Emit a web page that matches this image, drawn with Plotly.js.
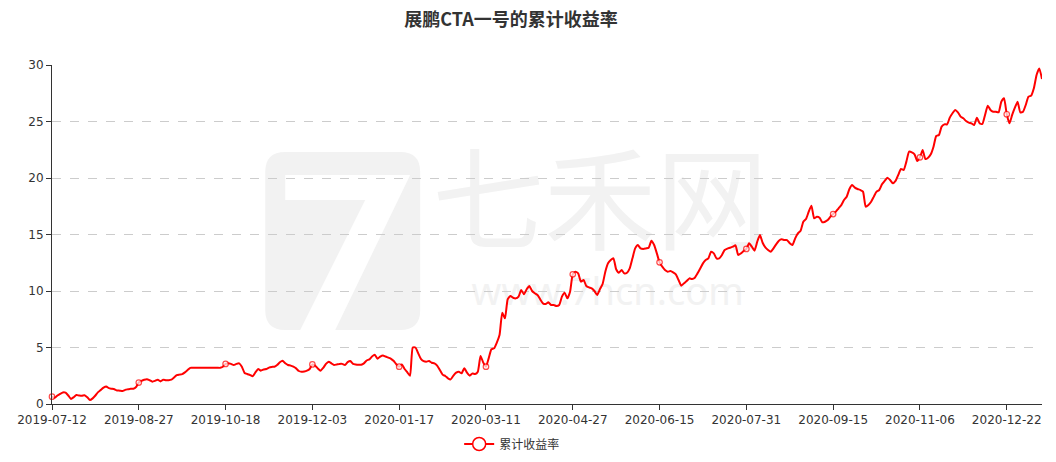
<!DOCTYPE html>
<html>
<head>
<meta charset="utf-8">
<script src="https://cdn.plot.ly/plotly-3.0.1.min.js"></script>
<style>
html,body{margin:0;padding:0;background:#fff;}
#chart{width:1056px;height:462px;}
</style>
</head>
<body>
<div id="chart"></div>
<script>
// tick labels (every 32nd trading day)
const tickLabels = ["2019-07-12","2019-08-27","2019-10-18","2019-12-03","2020-01-17","2020-03-11","2020-04-27","2020-06-15","2020-07-31","2020-09-15","2020-11-06","2020-12-22"];
const labelInterval = 32;

// cumulative return (%) per trading day
const cumReturn = [
0.65,0.55,0.75,0.9,1.02,1.0,0.75,0.45,0.6,0.8,
0.75,0.72,0.78,0.6,0.35,0.5,0.75,1.05,1.25,1.45,
1.55,1.4,1.35,1.3,1.2,1.18,1.15,1.25,1.3,1.35,
1.35,1.5,1.9,2.05,2.15,2.2,2.1,1.98,2.05,2.15,
2.0,2.15,2.1,2.1,2.15,2.35,2.55,2.6,2.65,2.8,
3.0,3.2,3.2,3.2,3.2,3.2,3.2,3.2,3.2,3.2,
3.2,3.2,3.2,3.3,3.55,3.6,3.55,3.45,3.55,3.6,
3.3,2.75,2.65,2.57,2.45,2.8,3.1,2.95,3.05,3.1,
3.22,3.28,3.3,3.45,3.69,3.83,3.6,3.45,3.4,3.3,
3.15,2.92,2.85,2.88,2.95,3.1,3.5,3.4,3.15,2.95,
3.2,3.55,3.75,3.6,3.45,3.5,3.55,3.55,3.45,3.7,
3.8,3.55,3.5,3.48,3.48,3.6,3.85,3.95,4.2,4.35,
4.0,4.2,4.3,4.2,4.1,4.0,3.8,3.5,3.3,3.5,
3.1,2.8,2.5,5.0,5.0,4.5,4.0,3.8,3.75,3.8,
3.65,3.6,3.4,3.0,2.6,2.48,2.27,2.18,2.51,2.77,
2.86,2.71,3.16,2.77,2.51,2.71,2.65,2.86,4.25,3.66,
3.3,4.04,4.84,4.93,5.43,6.1,8.08,7.58,9.26,9.56,
9.4,9.35,9.5,10.09,9.71,10.15,10.44,10.0,9.8,9.65,
9.26,8.91,8.85,9.0,8.76,8.76,8.67,8.76,9.5,9.85,
9.35,9.94,11.48,11.71,11.56,10.83,10.97,10.44,10.32,10.24,
10.0,9.65,10.15,10.62,11.71,12.45,12.74,12.89,11.92,11.62,
11.86,11.56,11.62,12.0,12.89,13.77,14.07,13.77,13.72,13.77,
13.83,14.45,14.07,13.33,12.54,12.15,11.86,11.71,11.77,11.65,
11.47,10.97,10.47,10.68,10.88,11.12,11.06,11.18,11.56,12.0,
12.45,12.74,12.89,13.48,13.33,12.89,12.89,13.19,13.63,13.75,
13.83,13.92,14.04,13.19,13.33,13.54,13.72,14.22,13.92,13.57,
14.36,14.95,14.27,13.86,13.63,13.48,13.78,14.13,14.45,14.57,
14.51,14.51,14.22,14.07,14.66,15.1,15.34,16.13,16.37,17.02,
17.55,16.43,16.58,16.49,16.08,16.13,16.28,16.58,16.81,17.02,
17.32,17.6,18.05,18.35,19.03,19.38,19.15,19.03,18.94,18.79,
17.46,17.61,17.9,18.35,18.79,18.94,19.44,19.74,20.03,19.82,
19.53,19.74,20.27,20.8,20.71,21.45,22.33,22.27,22.1,21.5,
21.83,22.48,21.68,21.8,22.1,22.77,23.72,23.81,24.55,24.75,
24.75,25.34,25.73,26.02,25.81,25.43,25.28,25.04,24.9,24.84,
24.69,25.34,24.84,24.78,25.58,26.4,26.02,25.87,25.87,25.81,
26.75,27.05,25.64,24.84,25.58,26.22,26.75,25.81,25.87,26.46,
27.2,27.29,27.94,29.12,29.7,28.76
];
const seriesName = "累计收益率";

const xIdx = cumReturn.map((_, i) => i);
const tickVals = tickLabels.map((_, k) => k * labelInterval);
const mSize = cumReturn.map((_, i) => (i % labelInterval === 0 ? 5.5 : 0));
const mLine = cumReturn.map((_, i) => (i % labelInterval === 0 ? 1.2 : 0));

const lineTrace = {
  x: xIdx,
  y: cumReturn,
  type: "scatter",
  mode: "lines+markers",
  name: seriesName,
  showlegend: false,
  cliponaxis: false,
  line: {color: "#ff0000", width: 2, shape: "spline", smoothing: 0.5},
  marker: {symbol: "circle", color: "#ffffff", size: mSize, line: {color: "#ff0000", width: mLine}},
  hoverinfo: "x+y"
};
// legend entry only (no data drawn)
const legendTrace = {
  x: [null],
  y: [null],
  type: "scatter",
  mode: "lines+markers",
  name: seriesName,
  showlegend: true,
  line: {color: "#ff0000", width: 2},
  marker: {symbol: "circle", color: "#ffffff", size: 13, line: {color: "#ff0000", width: 1.5}}
};

const toPx = (px) => (px - 51.7) / 990.3;
const toPy = (py) => (404 - py) / 339;

const layout = {
  width: 1056,
  height: 462,
  margin: {l: 52, r: 14, t: 65, b: 58, autoexpand: false},
  paper_bgcolor: "#ffffff",
  plot_bgcolor: "rgba(0,0,0,0)",
  font: {family: "Noto Sans CJK SC, Noto Sans, sans-serif", color: "#333", size: 12},
  title: {
    text: "<b>展鹏CTA一号的累计收益率</b>",
    font: {family: "Noto Sans CJK SC, sans-serif", size: 18, color: "#333"},
    xref: "container", x: 511 / 1056, xanchor: "center",
    yref: "container", y: 1 - 20 / 462, yanchor: "middle"
  },
  xaxis: {
    range: [0, cumReturn.length - 1],
    tickmode: "array",
    tickvals: tickVals,
    ticktext: tickLabels,
    showgrid: false,
    zeroline: false,
    showline: true,
    linecolor: "#333",
    linewidth: 1,
    ticks: "outside",
    ticklen: 5,
    tickcolor: "#333",
    tickfont: {family: "DejaVu Sans, sans-serif", size: 12, color: "#333"}
  },
  yaxis: {
    range: [0, 30],
    dtick: 5,
    tick0: 0,
    showgrid: true,
    gridcolor: "#cccccc",
    griddash: "dash",
    zeroline: false,
    showline: true,
    linecolor: "#333",
    linewidth: 1,
    ticks: "outside",
    ticklen: 5,
    tickcolor: "#333",
    tickfont: {family: "DejaVu Sans, sans-serif", size: 12, color: "#333"}
  },
  showlegend: true,
  legend: {
    orientation: "h",
    x: toPx(512), xanchor: "center",
    y: -40 / 339, yanchor: "middle",
    font: {size: 12, color: "#333"}
  },
  shapes: [
    {
      type: "path", xref: "paper", yref: "paper", layer: "below",
      path: "M " + toPx(285) + "," + toPy(152) + " L " + toPx(400) + "," + toPy(152) +
            " Q " + toPx(420) + "," + toPy(152) + " " + toPx(420) + "," + toPy(172) +
            " L " + toPx(420) + "," + toPy(310) +
            " Q " + toPx(420) + "," + toPy(330) + " " + toPx(400) + "," + toPy(330) +
            " L " + toPx(285) + "," + toPy(330) +
            " Q " + toPx(265) + "," + toPy(330) + " " + toPx(265) + "," + toPy(310) +
            " L " + toPx(265) + "," + toPy(172) +
            " Q " + toPx(265) + "," + toPy(152) + " " + toPx(285) + "," + toPy(152) + " Z",
      fillcolor: "#f2f2f2", line: {width: 0}
    },
    {
      type: "path", xref: "paper", yref: "paper", layer: "below",
      path: "M " + toPx(285) + "," + toPy(175) + " L " + toPx(410) + "," + toPy(175) +
            " L " + toPx(335) + "," + toPy(330) + " L " + toPx(300) + "," + toPy(330) +
            " L " + toPx(365) + "," + toPy(200) + " L " + toPx(285) + "," + toPy(200) + " Z",
      fillcolor: "#ffffff", line: {width: 0}
    },
    {
      type: "rect", xref: "paper", yref: "paper", layer: "below",
      x0: toPx(430), x1: toPx(770), y0: toPy(272), y1: toPy(150),
      fillcolor: "rgba(0,0,0,0)", line: {width: 0},
      label: {text: "七禾网", textposition: "middle center",
              font: {family: "Noto Sans CJK SC, sans-serif", size: 112, color: "#f2f2f2"}}
    },
    {
      type: "rect", xref: "paper", yref: "paper", layer: "below",
      x0: toPx(440), x1: toPx(775), y0: toPy(310), y1: toPy(276),
      fillcolor: "rgba(0,0,0,0)", line: {width: 0},
      label: {text: "www.7hcn.com", textposition: "middle center",
              font: {family: "Noto Sans, sans-serif", size: 38, color: "#f2f2f2"}}
    }
  ]
};

Plotly.newPlot("chart", [lineTrace, legendTrace], layout, {displayModeBar: false, staticPlot: true});
</script>
</body>
</html>
